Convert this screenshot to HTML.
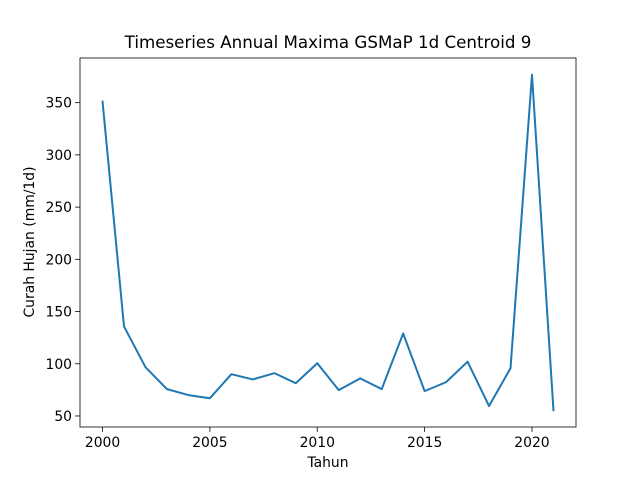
<!DOCTYPE html>
<html><head><meta charset="utf-8"><style>
body{margin:0;background:#fff;font-family:"Liberation Sans","DejaVu Sans",sans-serif}
svg text{font-family:"DejaVu Sans","Liberation Sans",sans-serif;fill:#000}
</style></head><body>
<svg id="chart" width="640" height="480" viewBox="0 0 640 480">
<rect width="640" height="480" fill="#fff"/>
<text x="328" y="48" font-size="16.7" text-anchor="middle">Timeseries Annual Maxima GSMaP 1d Centroid 9</text>
<g id="xt"></g><g id="yt"></g>
<polyline id="line" fill="none" stroke="#1f77b4" stroke-width="2" stroke-linejoin="round" stroke-linecap="square"/>
<rect x="80" y="58" width="496" height="369" fill="none" stroke="#000" stroke-width="0.8"/>
<text x="328" y="467" font-size="13.9" text-anchor="middle">Tahun</text>
<text x="0" y="0" font-size="13.9" text-anchor="middle" transform="translate(34,242) rotate(-90)">Curah Hujan (mm/1d)</text>
</svg>
<script>
const years=[2000,2001,2002,2003,2004,2005,2006,2007,2008,2009,2010,2011,2012,2013,2014,2015,2016,2017,2018,2019,2020,2021];
const values=[351,135.7,96.7,75.7,70,67,90,85,91,81.4,100.5,74.8,86,75.7,129,73.8,82.4,102,59.5,95.7,376.7,55.5];
const xTicks=[2000,2005,2010,2015,2020];
const yTicks=[50,100,150,200,250,300,350];
const ns="http://www.w3.org/2000/svg";
const L=80,R=576,T=58,B=427;
const xmin=Math.min(...years),xmax=Math.max(...years);
const vmin=Math.min(...values),vmax=Math.max(...values);
const xpad=(xmax-xmin)*0.05,ypad=(vmax-vmin)*0.05;
const x=v=>L+(v-(xmin-xpad))/((xmax+xpad)-(xmin-xpad))*(R-L);
const y=v=>B-(v-(vmin-ypad))/((vmax+ypad)-(vmin-ypad))*(B-T);
document.getElementById('line').setAttribute('points',years.map((yr,i)=>x(yr)+','+y(values[i])).join(' '));
const xt=document.getElementById('xt'),yt=document.getElementById('yt');
xTicks.forEach(t=>{
const l=document.createElementNS(ns,'line');
l.setAttribute('x1',x(t));l.setAttribute('x2',x(t));l.setAttribute('y1',B);l.setAttribute('y2',B+4.9);l.setAttribute('stroke','#000');l.setAttribute('stroke-width','0.8');


xt.appendChild(l);
const tx=document.createElementNS(ns,'text');
tx.setAttribute('x',x(t));tx.setAttribute('y',B+20);tx.setAttribute('font-size','13.9');tx.setAttribute('text-anchor','middle');tx.textContent=t;


xt.appendChild(tx);
});
yTicks.forEach(t=>{
const l=document.createElementNS(ns,'line');
l.setAttribute('x1',L-4.9);l.setAttribute('x2',L);l.setAttribute('y1',y(t));l.setAttribute('y2',y(t));l.setAttribute('stroke','#000');l.setAttribute('stroke-width','0.8');


yt.appendChild(l);
const tx=document.createElementNS(ns,'text');
tx.setAttribute('x',L-8);tx.setAttribute('y',y(t)+5);tx.setAttribute('font-size','13.9');tx.setAttribute('text-anchor','end');tx.textContent=t;


yt.appendChild(tx);
});
</script>
</body></html>
